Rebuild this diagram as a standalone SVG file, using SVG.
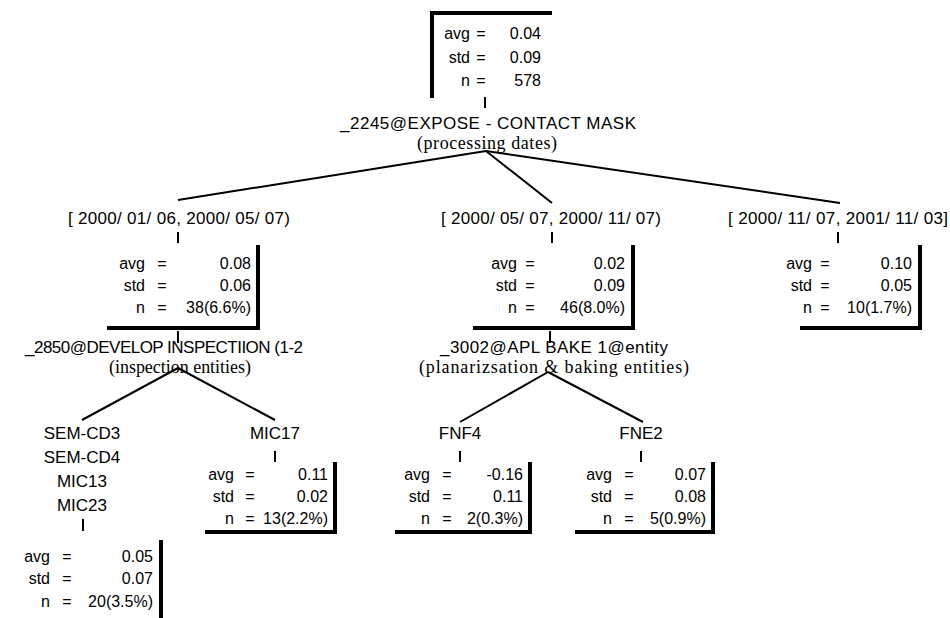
<svg xmlns="http://www.w3.org/2000/svg" width="950" height="618" viewBox="0 0 950 618">
<style>
.s{font-family:"Liberation Sans",Arial,sans-serif;font-size:16px;fill:#000}
.l{font-family:"Liberation Sans",Arial,sans-serif;font-size:17px;fill:#000;text-anchor:middle}
.r{font-family:"Liberation Serif","Times New Roman",serif;font-size:18px;fill:#000;text-anchor:middle}
.e{text-anchor:end}
.m{text-anchor:middle}
.b{stroke:#000;stroke-width:4;fill:none}
.c{stroke:#000;stroke-width:2;fill:none}
</style>
<rect width="950" height="618" fill="#fff"/>
<g id="connectors">
<line class="c" x1="485" y1="97" x2="485" y2="108"/>
<line class="c" x1="486" y1="151" x2="178" y2="200"/>
<line class="c" x1="486" y1="151" x2="552" y2="203"/>
<line class="c" x1="486" y1="151" x2="840" y2="203"/>
<line class="c" x1="178" y1="232" x2="178" y2="243"/>
<line class="c" x1="552" y1="232" x2="552" y2="243"/>
<line class="c" x1="838" y1="232" x2="838" y2="243"/>
<line class="c" x1="178" y1="331" x2="178" y2="343"/>
<line class="c" x1="550" y1="331" x2="550" y2="343"/>
<line class="c" x1="178" y1="368" x2="82" y2="420"/>
<line class="c" x1="178" y1="368" x2="275" y2="420"/>
<line class="c" x1="548" y1="372" x2="460" y2="422"/>
<line class="c" x1="548" y1="372" x2="643" y2="422"/>
<line class="c" x1="83" y1="519" x2="83" y2="531"/>
<line class="c" x1="275" y1="451" x2="275" y2="462"/>
<line class="c" x1="460" y1="451" x2="460" y2="462"/>
<line class="c" x1="641" y1="451" x2="641" y2="462"/>
</g>
<g id="root">
<path class="b" d="M432,98 V13 H552"/>
<text class="s e" x="470" y="39">avg</text><text class="s m" x="481" y="39">=</text><text class="s e" x="541" y="39">0.04</text>
<text class="s e" x="470" y="63">std</text><text class="s m" x="481" y="63">=</text><text class="s e" x="541" y="63">0.09</text>
<text class="s e" x="470" y="86">n</text><text class="s m" x="481" y="86">=</text><text class="s e" x="541" y="86">578</text>
</g>
<g id="split1">
<text class="l" x="488" y="129" textLength="296" lengthAdjust="spacing">_2245@EXPOSE - CONTACT MASK</text>
<text class="r" x="487" y="149" textLength="140" lengthAdjust="spacing">(processing dates)</text>
</g>
<g id="n1">
<text class="l" x="179" y="224" textLength="222" lengthAdjust="spacing">[ 2000/ 01/ 06, 2000/ 05/ 07)</text>
<path class="b" d="M258,245 V328 H107"/>
<text class="s e" x="145" y="269">avg</text><text class="s m" x="162" y="269">=</text><text class="s e" x="251" y="269">0.08</text>
<text class="s e" x="145" y="291">std</text><text class="s m" x="162" y="291">=</text><text class="s e" x="251" y="291">0.06</text>
<text class="s e" x="145" y="313">n</text><text class="s m" x="162" y="313">=</text><text class="s e" x="251" y="313">38(6.6%)</text>
</g>
<g id="n2">
<text class="l" x="551" y="224" textLength="220" lengthAdjust="spacing">[ 2000/ 05/ 07, 2000/ 11/ 07)</text>
<path class="b" d="M633,245 V328 H473"/>
<text class="s e" x="517" y="269">avg</text><text class="s m" x="530" y="269">=</text><text class="s e" x="625" y="269">0.02</text>
<text class="s e" x="517" y="291">std</text><text class="s m" x="530" y="291">=</text><text class="s e" x="625" y="291">0.09</text>
<text class="s e" x="517" y="313">n</text><text class="s m" x="530" y="313">=</text><text class="s e" x="625" y="313">46(8.0%)</text>
</g>
<g id="n3">
<text class="l" x="838" y="224" textLength="220" lengthAdjust="spacing">[ 2000/ 11/ 07, 2001/ 11/ 03]</text>
<path class="b" d="M920,245 V328 H800"/>
<text class="s e" x="812" y="269">avg</text><text class="s m" x="825" y="269">=</text><text class="s e" x="912" y="269">0.10</text>
<text class="s e" x="812" y="291">std</text><text class="s m" x="825" y="291">=</text><text class="s e" x="912" y="291">0.05</text>
<text class="s e" x="812" y="313">n</text><text class="s m" x="825" y="313">=</text><text class="s e" x="912" y="313">10(1.7%)</text>
</g>
<g id="split2">
<text class="l" x="164" y="353" textLength="278" lengthAdjust="spacing">_2850@DEVELOP INSPECTIION (1-2</text>
<text class="r" x="180" y="373" textLength="142" lengthAdjust="spacing">(inspection entities)</text>
</g>
<g id="split3">
<text class="l" x="554" y="353" textLength="228" lengthAdjust="spacing">_3002@APL BAKE 1@entity</text>
<text class="r" x="554" y="373" textLength="270" lengthAdjust="spacing">(planarizsation &amp; baking entities)</text>
</g>
<g id="n4">
<text class="l" x="82" y="439">SEM-CD3</text>
<text class="l" x="82" y="463">SEM-CD4</text>
<text class="l" x="82" y="487">MIC13</text>
<text class="l" x="82" y="511">MIC23</text>
<path class="b" d="M161,540 V620"/>
<text class="s e" x="50" y="562">avg</text><text class="s m" x="67" y="562">=</text><text class="s e" x="153" y="562">0.05</text>
<text class="s e" x="50" y="584">std</text><text class="s m" x="67" y="584">=</text><text class="s e" x="153" y="584">0.07</text>
<text class="s e" x="50" y="607">n</text><text class="s m" x="67" y="607">=</text><text class="s e" x="153" y="607">20(3.5%)</text>
</g>
<g id="n5">
<text class="l" x="275" y="439">MIC17</text>
<path class="b" d="M335,462 V532 H205"/>
<text class="s e" x="234" y="480">avg</text><text class="s m" x="250" y="480">=</text><text class="s e" x="328" y="480">0.11</text>
<text class="s e" x="234" y="502">std</text><text class="s m" x="250" y="502">=</text><text class="s e" x="328" y="502">0.02</text>
<text class="s e" x="234" y="524">n</text><text class="s m" x="250" y="524">=</text><text class="s e" x="328" y="524">13(2.2%)</text>
</g>
<g id="n6">
<text class="l" x="460" y="439">FNF4</text>
<path class="b" d="M530,462 V532 H395"/>
<text class="s e" x="430" y="480">avg</text><text class="s m" x="447" y="480">=</text><text class="s e" x="523" y="480">-0.16</text>
<text class="s e" x="430" y="502">std</text><text class="s m" x="447" y="502">=</text><text class="s e" x="523" y="502">0.11</text>
<text class="s e" x="430" y="524">n</text><text class="s m" x="447" y="524">=</text><text class="s e" x="523" y="524">2(0.3%)</text>
</g>
<g id="n7">
<text class="l" x="641" y="439">FNE2</text>
<path class="b" d="M713,462 V532 H575"/>
<text class="s e" x="612" y="480">avg</text><text class="s m" x="629" y="480">=</text><text class="s e" x="706" y="480">0.07</text>
<text class="s e" x="612" y="502">std</text><text class="s m" x="629" y="502">=</text><text class="s e" x="706" y="502">0.08</text>
<text class="s e" x="612" y="524">n</text><text class="s m" x="629" y="524">=</text><text class="s e" x="706" y="524">5(0.9%)</text>
</g>
</svg>
